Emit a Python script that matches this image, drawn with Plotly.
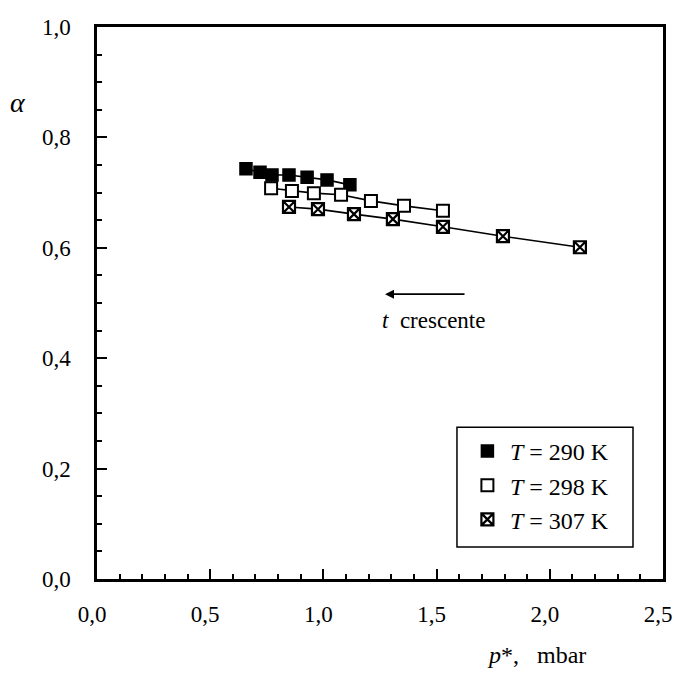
import plotly.graph_objects as go

# Data
p290 = [0.658, 0.72, 0.773, 0.848, 0.928, 1.016, 1.117]
a290 = [0.743, 0.737, 0.732, 0.732, 0.728, 0.723, 0.714]
p298 = [0.769, 0.861, 0.958, 1.078, 1.21, 1.356, 1.528]
a298 = [0.708, 0.703, 0.699, 0.696, 0.685, 0.676, 0.667]
p307 = [0.848, 0.976, 1.135, 1.307, 1.528, 1.793, 2.133]
a307 = [0.674, 0.670, 0.661, 0.652, 0.638, 0.621, 0.601]

series_names = ["<i>T</i> = 290 K", "<i>T</i> = 298 K", "<i>T</i> = 307 K"]
x_ticks = [0.0, 0.5, 1.0, 1.5, 2.0, 2.5]
x_ticktext = ["0,0", "0,5", "1,0", "1,5", "2,0", "2,5"]
y_ticks = [0.0, 0.2, 0.4, 0.6, 0.8, 1.0]
y_ticktext = ["0,0", "0,2", "0,4", "0,6", "0,8", "1,0"]

FONT = "Liberation Serif"
fig = go.Figure()

styles = [
    dict(symbol="square", color="black", line=dict(color="black", width=1.5)),
    dict(symbol="square", color="white", line=dict(color="black", width=2)),
    dict(symbol="square-x", color="white", line=dict(color="black", width=2.2)),
]
data = [(p290, a290), (p298, a298), (p307, a307)]

for (xs, ys), name, st in zip(data, series_names, styles):
    fig.add_trace(go.Scatter(x=xs, y=ys, mode="lines", line=dict(color="black", width=1.6),
                             showlegend=False, hoverinfo="skip"))
for i, ((xs, ys), name, st) in enumerate(zip(data, series_names, styles)):
    fig.add_trace(go.Scatter(x=xs, y=ys, mode="markers", name=name, legendgroup=str(i),
                             marker=dict(symbol=st["symbol"], size=12, color=st["color"], line=st["line"])))

axis_common = dict(showline=True, linecolor="black", linewidth=2.5, mirror=True,
                   ticks="inside", ticklen=10, tickwidth=2, tickcolor="black",
                   showgrid=False, zeroline=False, automargin=False, ticklabeloverflow="allow",
                   tickfont=dict(family=FONT, size=23, color="black"))

fig.update_xaxes(range=[0, 2.5], tickvals=x_ticks, ticktext=x_ticktext,
                 minor=dict(ticks="inside", ticklen=5, tickwidth=1.5, tickcolor="black", dtick=0.1, tick0=0),
                 ticklabelstandoff=13, ticklabelshift=-5, **axis_common)
fig.update_yaxes(range=[0, 1.0], tickvals=y_ticks, ticktext=y_ticktext,
                 minor=dict(ticks="inside", ticklen=5, tickwidth=1.5, tickcolor="black", dtick=0.05, tick0=0),
                 ticklabelstandoff=19, **axis_common)

fig.add_annotation(x=1.272, y=0.516, ax=1.63, ay=0.516, xref="x", yref="y", axref="x", ayref="y",
                   text="", showarrow=True, arrowhead=2, arrowsize=1, arrowwidth=1.8, arrowcolor="black")
fig.add_annotation(x=1.485, y=0.468, xref="x", yref="y", text="<i>t</i>  crescente", showarrow=False,
                   font=dict(family=FONT, size=23, color="black"))
fig.add_annotation(x=-0.14, y=0.864, xref="paper", yref="paper", xanchor="center", yanchor="middle",
                   text="<i>α</i>", showarrow=False, font=dict(family=FONT, size=28, color="black"))
fig.add_annotation(x=0.776, y=-0.138, xref="paper", yref="paper", xanchor="center", yanchor="middle",
                   text="<i>p</i>*,&nbsp;&nbsp;&nbsp;mbar",
                   showarrow=False, font=dict(family=FONT, size=24, color="black"))

# legend frame
fig.add_shape(type="rect", xref="paper", yref="paper", x0=0.636, x1=0.947, y0=0.058, y1=0.275,
              line=dict(color="black", width=1.5), fillcolor="white", layer="below")

fig.update_layout(
    width=674, height=674, margin=dict(l=97, r=11, t=27, b=95),
    paper_bgcolor="white", plot_bgcolor="white",
    legend=dict(x=0.650, y=0.272, xanchor="left", yanchor="top", borderwidth=0,
                bgcolor="rgba(0,0,0,0)", font=dict(family=FONT, size=24, color="black"), tracegroupgap=0,
                itemwidth=35),
)
fig.write_html("out.html")
